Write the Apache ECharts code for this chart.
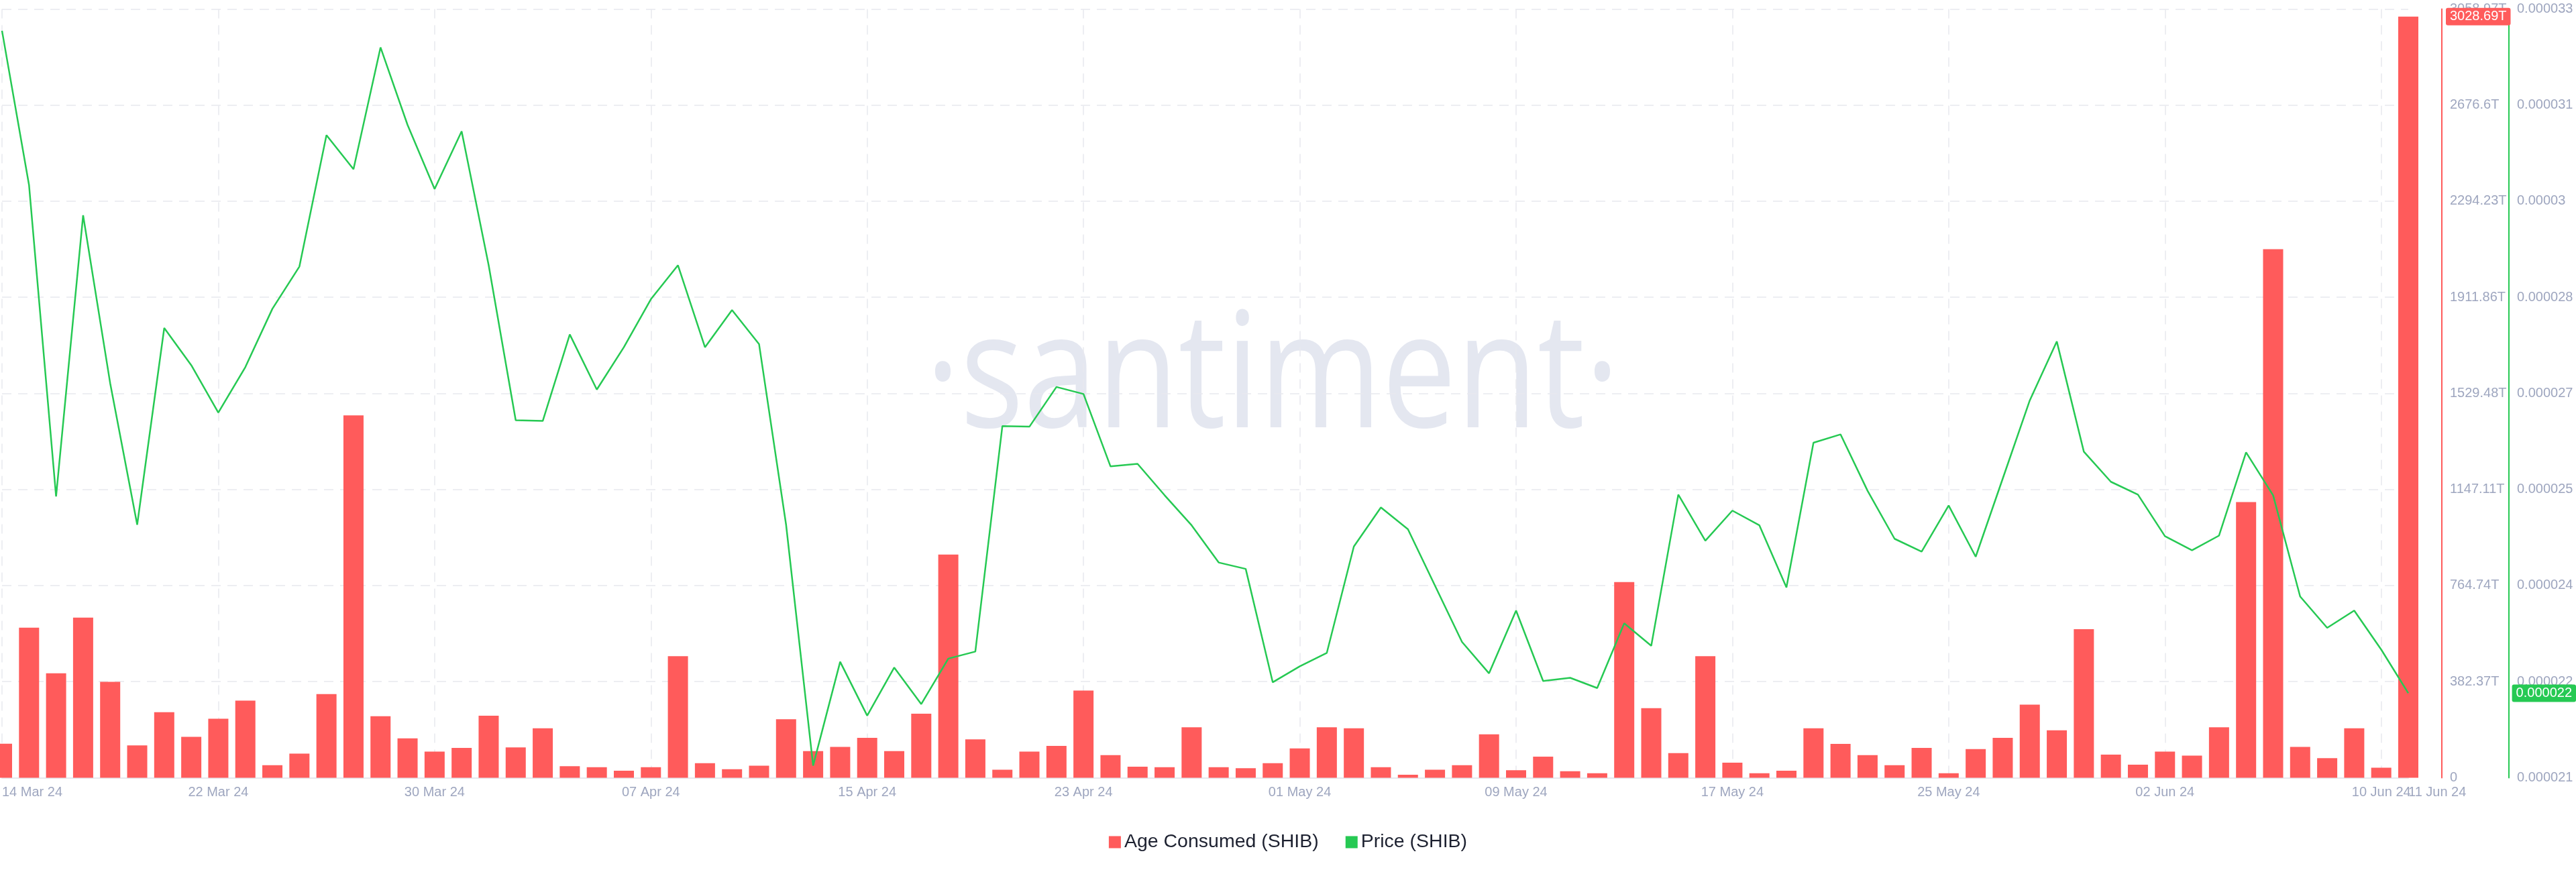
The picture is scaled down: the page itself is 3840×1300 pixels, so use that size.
<!DOCTYPE html>
<html>
<head>
<meta charset="utf-8">
<script src="https://cdn.jsdelivr.net/npm/echarts@6/dist/echarts.min.js"></script>
<style>
html,body{margin:0;padding:0;background:#fff;}
#chart{width:3840px;height:1300px;}
</style>
</head>
<body>
<div id="chart"></div>
<script>
// Daily dates, 14 Mar 24 .. 11 Jun 24
const dates = [
'14 Mar 24','15 Mar 24','16 Mar 24','17 Mar 24','18 Mar 24','19 Mar 24','20 Mar 24','21 Mar 24','22 Mar 24','23 Mar 24',
'24 Mar 24','25 Mar 24','26 Mar 24','27 Mar 24','28 Mar 24','29 Mar 24','30 Mar 24','31 Mar 24','01 Apr 24','02 Apr 24',
'03 Apr 24','04 Apr 24','05 Apr 24','06 Apr 24','07 Apr 24','08 Apr 24','09 Apr 24','10 Apr 24','11 Apr 24','12 Apr 24',
'13 Apr 24','14 Apr 24','15 Apr 24','16 Apr 24','17 Apr 24','18 Apr 24','19 Apr 24','20 Apr 24','21 Apr 24','22 Apr 24',
'23 Apr 24','24 Apr 24','25 Apr 24','26 Apr 24','27 Apr 24','28 Apr 24','29 Apr 24','30 Apr 24','01 May 24','02 May 24',
'03 May 24','04 May 24','05 May 24','06 May 24','07 May 24','08 May 24','09 May 24','10 May 24','11 May 24','12 May 24',
'13 May 24','14 May 24','15 May 24','16 May 24','17 May 24','18 May 24','19 May 24','20 May 24','21 May 24','22 May 24',
'23 May 24','24 May 24','25 May 24','26 May 24','27 May 24','28 May 24','29 May 24','30 May 24','31 May 24','01 Jun 24',
'02 Jun 24','03 Jun 24','04 Jun 24','05 Jun 24','06 Jun 24','07 Jun 24','08 Jun 24','09 Jun 24','10 Jun 24','11 Jun 24'
];

// Age Consumed (SHIB), in trillions
const ageConsumed = [
135.4, 597, 416, 637, 382, 129, 261, 163, 235, 307,
50, 96, 333, 1442, 245, 157, 104, 119, 247, 121,
197, 46, 42, 28, 42, 484, 58, 34, 48, 233,
106, 123, 159, 106, 255, 888, 153, 32, 104, 127,
347, 90, 44, 42, 201, 42, 38, 58, 117, 201,
197, 42, 12, 32, 50, 173, 30, 84, 26, 18,
779, 277, 98, 484, 60, 18, 28, 197, 135, 90,
50, 119, 18, 114, 159, 291, 189, 591, 92, 52,
104, 88, 201, 1097, 2103, 123, 78, 197, 40, 3028.69
];

// Price (SHIB), USD
const price = [
3.266e-5, 3.025e-5, 2.539e-5, 2.978e-5, 2.716e-5, 2.495e-5, 2.802e-5, 2.744e-5, 2.670e-5, 2.741e-5,
2.832e-5, 2.898e-5, 3.103e-5, 3.050e-5, 3.240e-5, 3.119e-5, 3.019e-5, 3.109e-5, 2.900e-5, 2.658e-5,
2.657e-5, 2.792e-5, 2.706e-5, 2.772e-5, 2.847e-5, 2.900e-5, 2.772e-5, 2.830e-5, 2.777e-5, 2.495e-5,
2.119e-5, 2.281e-5, 2.197e-5, 2.272e-5, 2.215e-5, 2.286e-5, 2.297e-5, 2.649e-5, 2.648e-5, 2.710e-5,
2.699e-5, 2.586e-5, 2.590e-5, 2.541e-5, 2.494e-5, 2.436e-5, 2.426e-5, 2.249e-5, 2.274e-5, 2.295e-5,
2.461e-5, 2.522e-5, 2.488e-5, 2.400e-5, 2.312e-5, 2.263e-5, 2.361e-5, 2.251e-5, 2.256e-5, 2.240e-5,
2.341e-5, 2.306e-5, 2.542e-5, 2.470e-5, 2.517e-5, 2.494e-5, 2.397e-5, 2.623e-5, 2.636e-5, 2.548e-5,
2.473e-5, 2.453e-5, 2.525e-5, 2.445e-5, 2.567e-5, 2.689e-5, 2.781e-5, 2.609e-5, 2.562e-5, 2.542e-5,
2.477e-5, 2.455e-5, 2.478e-5, 2.608e-5, 2.541e-5, 2.383e-5, 2.334e-5, 2.361e-5, 2.300e-5, 2.232e-5
];

// Axis scales and tick labels
const ageAxisMin = 0;
const ageAxisMax = 3058.97;
const ageTickLabels = ['0','382.37T','764.74T','1147.11T','1529.48T','1911.86T','2294.23T','2676.6T','3058.97T'];
const priceAxisMin = 2.1e-5;
const priceAxisMax = 3.3e-5;
const priceAxisInterval = 1.5e-6;
const priceTickLabels = ['0.000021','0.000022','0.000024','0.000025','0.000027','0.000028','0.00003','0.000031','0.000033'];

const RED = '#ff5b5b';
const GREEN = '#26c953';
const LABEL = '#9ea6bf';
const FONT = '"Liberation Sans", Arial, sans-serif';

const chart = echarts.init(document.getElementById('chart'), null, {renderer: 'canvas'});
const lastIdx = dates.length - 1;

const xLabelBase = {color: LABEL, fontSize: 20, margin: 12, fontFamily: FONT, hideOverlap: false};

chart.setOption({
  animation: false,
  backgroundColor: '#ffffff',
  textStyle: {fontFamily: FONT},
  graphic: [{
    type: 'text',
    x: 1897,
    y: 568,
    scaleX: 0.82,
    z: -10,
    silent: true,
    style: {
      text: '·santiment·',
      fill: '#e4e7f0',
      font: '241px "Open Sans", sans-serif',
      align: 'center',
      verticalAlign: 'middle'
    }
  }],
  legend: {
    top: 1236,
    left: 'center',
    icon: 'rect',
    itemWidth: 18,
    itemHeight: 18,
    itemGap: 40,
    textStyle: {fontSize: 28.5, color: '#1d2130', fontFamily: FONT},
    data: ['Age Consumed (SHIB)', 'Price (SHIB)']
  },
  grid: {left: 0, right: 250, top: 13.4, bottom: 140.5, containLabel: false},
  xAxis: [{
    type: 'category',
    data: dates,
    boundaryGap: false,
    axisLine: {show: true, lineStyle: {color: '#e6e8ee', width: 2}},
    axisTick: {show: false},
    axisLabel: Object.assign({}, xLabelBase, {
      interval: function (i) { return i % 8 === 0; },
      showMinLabel: true,
      showMaxLabel: true,
      alignMinLabel: 'left'
    }),
    splitLine: {
      show: true,
      interval: function (i) { return i % 8 === 0; },
      lineStyle: {color: '#e8e9ee', type: [14, 10], width: 1.5}
    }
  }, {
    // same category axis, used only to print the final date label
    type: 'category',
    data: dates,
    position: 'bottom',
    boundaryGap: false,
    axisLine: {show: false},
    axisTick: {show: false},
    splitLine: {show: false},
    axisLabel: Object.assign({}, xLabelBase, {
      interval: function (i) { return i === lastIdx; },
      showMinLabel: true,
      showMaxLabel: true,
      alignMinLabel: 'left',
      alignMaxLabel: 'left'
    })
  }],
  yAxis: [{
    type: 'value',
    position: 'right',
    offset: 50,
    min: ageAxisMin,
    max: ageAxisMax,
    interval: (ageAxisMax - ageAxisMin) / 8,
    axisLine: {show: true, lineStyle: {color: RED, width: 2}},
    axisTick: {show: false},
    axisLabel: {color: LABEL, fontSize: 20, margin: 12, fontFamily: FONT,
      formatter: function (v, i) { return ageTickLabels[i]; }},
    splitLine: {show: true, lineStyle: {color: '#e8e9ee', type: [14, 10], width: 1.5}},
    axisPointer: {
      show: true, status: 'show', value: ageConsumed[lastIdx], triggerTooltip: false,
      lineStyle: {opacity: 0},
      label: {show: true, backgroundColor: RED, color: '#fff', fontSize: 20, fontFamily: FONT,
        padding: [3, 6], margin: 6,
        formatter: function (p) { return (+(+p.value).toFixed(2)) + 'T'; }}
    }
  }, {
    type: 'value',
    position: 'right',
    offset: 150,
    min: priceAxisMin,
    max: priceAxisMax,
    interval: priceAxisInterval,
    axisLine: {show: true, lineStyle: {color: GREEN, width: 2}},
    axisTick: {show: false},
    axisLabel: {color: LABEL, fontSize: 20, margin: 12, fontFamily: FONT,
      formatter: function (v, i) { return priceTickLabels[i]; }},
    splitLine: {show: false},
    axisPointer: {
      show: true, status: 'show', value: price[lastIdx], triggerTooltip: false,
      lineStyle: {opacity: 0},
      label: {show: true, backgroundColor: GREEN, color: '#fff', fontSize: 20, fontFamily: FONT,
        padding: [3, 6], margin: 6,
        formatter: function (p) { return (Math.floor(p.value * 1e6 + 1e-9) / 1e6).toFixed(6); }}
    }
  }],
  series: [{
    name: 'Age Consumed (SHIB)',
    type: 'bar',
    xAxisIndex: 0,
    yAxisIndex: 0,
    data: ageConsumed,
    barWidth: 30,
    clip: true,
    itemStyle: {color: RED},
    z: 2
  }, {
    name: 'Price (SHIB)',
    type: 'line',
    xAxisIndex: 0,
    yAxisIndex: 1,
    data: price,
    showSymbol: false,
    symbol: 'none',
    lineStyle: {color: GREEN, width: 2.5},
    itemStyle: {color: GREEN},
    z: 3
  }]
});
</script>
</body>
</html>
